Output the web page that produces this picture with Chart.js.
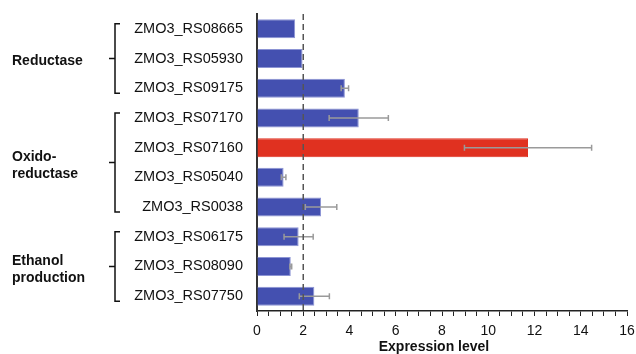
<!DOCTYPE html>
<html>
<head>
<meta charset="utf-8">
<script src="https://cdn.jsdelivr.net/npm/chart.js@4"></script>
<style>
  html, body { margin: 0; padding: 0; background: #fff; }
  #wrap { width: 636px; height: 354px; }
</style>
</head>
<body>
<div id="wrap"><canvas id="c"></canvas></div>
<script>
// ===== Data =====
const genes = [
  "ZMO3_RS08665", "ZMO3_RS05930", "ZMO3_RS09175",
  "ZMO3_RS07170", "ZMO3_RS07160", "ZMO3_RS05040", "ZMO3_RS0038",
  "ZMO3_RS06175", "ZMO3_RS08090", "ZMO3_RS07750",
];
const expression = [1.65, 1.97, 3.8, 4.4, 11.72, 1.15, 2.77, 1.8, 1.46, 2.48];
const errors = [0, 0, 0.16, 1.28, 2.75, 0.1, 0.68, 0.63, 0.04, 0.65];

const groupNames = [["Reductase"], ["Oxido-", "reductase"], ["Ethanol", "production"]];
const groupFirst = [0, 3, 7];
const groupLast = [2, 6, 9];

const threshold = 2;
const highlightGene = "ZMO3_RS07160";
const xTitle = "Expression level";

const FONT = "'Liberation Sans', Arial, sans-serif";

// ===== Plugins =====
const extras = {
  id: "extras",
  afterDatasetsDraw(chart) {
    const { ctx, chartArea, scales: { x, y } } = chart;
    ctx.save();

    // error bars
    ctx.strokeStyle = "#9a9a9a";
    ctx.lineWidth = 1.5;
    errors.forEach((e, i) => {
      if (!e) return;
      const cy = y.getPixelForValue(i);
      const x0 = x.getPixelForValue(expression[i] - e);
      const x1 = x.getPixelForValue(expression[i] + e);
      ctx.beginPath();
      ctx.moveTo(x0, cy); ctx.lineTo(x1, cy);
      ctx.moveTo(x0, cy - 3); ctx.lineTo(x0, cy + 3);
      ctx.moveTo(x1, cy - 3); ctx.lineTo(x1, cy + 3);
      ctx.stroke();
    });

    // dashed threshold line
    const tx = x.getPixelForValue(threshold);
    ctx.strokeStyle = "#555";
    ctx.lineWidth = 1.5;
    ctx.setLineDash([6, 4]);
    ctx.beginPath();
    ctx.moveTo(tx, chartArea.top);
    ctx.lineTo(tx, chartArea.bottom);
    ctx.stroke();
    ctx.setLineDash([]);

    // group brackets + labels
    ctx.strokeStyle = "#111";
    ctx.lineWidth = 1.5;
    ctx.fillStyle = "#111";
    ctx.font = "bold 14px " + FONT;
    ctx.textBaseline = "middle";
    ctx.textAlign = "left";
    groupNames.forEach((lines, g) => {
      const top = y.getPixelForValue(groupFirst[g]) - 5;
      const bot = y.getPixelForValue(groupLast[g]) + 5;
      const mid = (top + bot) / 2;
      const bx = 115;
      ctx.beginPath();
      ctx.moveTo(bx + 5, top); ctx.lineTo(bx, top); ctx.lineTo(bx, bot); ctx.lineTo(bx + 5, bot);
      ctx.moveTo(bx - 6, mid); ctx.lineTo(bx, mid);
      ctx.stroke();
      const lh = 17;
      const start = mid + 3 - (lines.length - 1) * lh / 2;
      lines.forEach((t, k) => ctx.fillText(t, 12, start + k * lh));
    });

    // x axis title (sits a bit left of the plot centre in the original)
    ctx.textAlign = "center";
    ctx.fillText(xTitle, (chartArea.left + chartArea.right) / 2 - 8, chartArea.bottom + 36);

    ctx.restore();
  },
};

// ===== Chart =====
new Chart(document.getElementById("c"), {
  type: "bar",
  data: {
    labels: genes,
    datasets: [{
      data: expression,
      backgroundColor: (c) => genes[c.dataIndex] === highlightGene ? "#e03120" : "#4450b0",
      borderColor: (c) => genes[c.dataIndex] === highlightGene ? "#e03120" : "#8c94d4",
      borderWidth: 1,
      borderSkipped: "start",
      barPercentage: 0.8,
      categoryPercentage: 0.8,
    }],
  },
  options: {
    indexAxis: "y",
    responsive: true,
    maintainAspectRatio: false,
    animation: false,
    layout: { padding: { top: 14, right: 9, left: 0, bottom: 0 } },
    plugins: { legend: { display: false }, tooltip: { enabled: false } },
    scales: {
      x: {
        min: 0, max: 16,
        afterFit: (s) => { s.height = 43; s.paddingLeft = 0; s.paddingRight = 0; },
        ticks: {
          stepSize: 0.5,
          autoSkip: false,
          maxRotation: 0,
          padding: 7,
          color: "#111",
          font: { family: FONT, size: 14 },
          callback: (v) => (v % 2 === 0 ? v : ""),
        },
        grid: { display: true, drawOnChartArea: false, drawTicks: true, tickLength: 5, color: "#222", lineWidth: 1 },
        border: { display: true, color: "#222", width: 1.5 },
      },
      y: {
        afterFit: (s) => { s.width = 257; s.paddingTop = 0; s.paddingBottom = 0; },
        ticks: {
          padding: 14,
          color: "#111",
          font: { family: FONT, size: 14.5 },
        },
        grid: { display: false, drawTicks: false },
        border: { display: true, color: "#333", width: 2 },
      },
    },
  },
  plugins: [extras],
});
</script>
</body>
</html>
